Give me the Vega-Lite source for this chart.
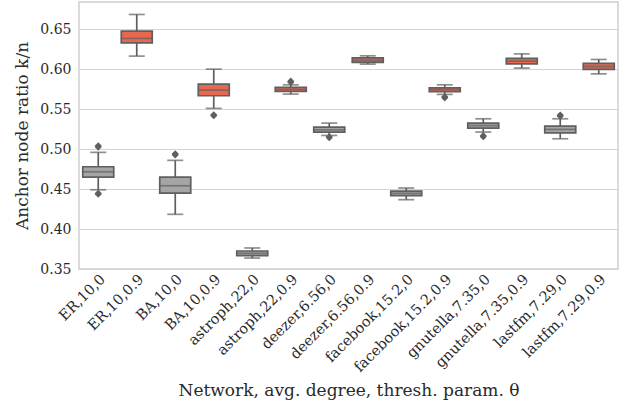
{
  "$schema": "https://vega.github.io/schema/vega-lite/v6.json",
  "width": 539,
  "height": 267,
  "autosize": {"type": "none"},
  "padding": {"left": 79, "top": 2, "right": 4, "bottom": 138},
  "background": "white",
  "config": {
    "font": "DejaVu Serif",
    "view": {"stroke": "#cfcfcf", "strokeWidth": 1.5},
    "axis": {"labelFont": "DejaVu Serif", "titleFont": "DejaVu Serif", "labelColor": "#2a2a2a", "titleColor": "#2a2a2a", "titleFontWeight": "normal"}
  },
  "datasets": {
    "boxes": [
      {"cat": "ER,10,0", "theta": "0", "lo": 0.4491, "q1": 0.465, "med": 0.4716, "q3": 0.4779, "hi": 0.4959},
      {"cat": "ER,10,0.9", "theta": "0.9", "lo": 0.6163, "q1": 0.6329, "med": 0.6384, "q3": 0.6475, "hi": 0.6684},
      {"cat": "BA,10,0", "theta": "0", "lo": 0.4184, "q1": 0.445, "med": 0.4541, "q3": 0.465, "hi": 0.4859},
      {"cat": "BA,10,0.9", "theta": "0.9", "lo": 0.5509, "q1": 0.5667, "med": 0.5738, "q3": 0.5813, "hi": 0.6},
      {"cat": "astroph,22,0", "theta": "0", "lo": 0.3637, "q1": 0.3667, "med": 0.3696, "q3": 0.3725, "hi": 0.3763},
      {"cat": "astroph,22,0.9", "theta": "0.9", "lo": 0.5688, "q1": 0.5721, "med": 0.5746, "q3": 0.5771, "hi": 0.5804},
      {"cat": "deezer,6.56,0", "theta": "0", "lo": 0.5171, "q1": 0.5213, "med": 0.5241, "q3": 0.5275, "hi": 0.5325},
      {"cat": "deezer,6.56,0.9", "theta": "0.9", "lo": 0.6063, "q1": 0.6084, "med": 0.611, "q3": 0.6141, "hi": 0.6167},
      {"cat": "facebook,15.2,0", "theta": "0", "lo": 0.4367, "q1": 0.4417, "med": 0.4446, "q3": 0.4475, "hi": 0.4513},
      {"cat": "facebook,15.2,0.9", "theta": "0.9", "lo": 0.5684, "q1": 0.5717, "med": 0.5742, "q3": 0.5767, "hi": 0.5804},
      {"cat": "gnutella,7.35,0", "theta": "0", "lo": 0.5213, "q1": 0.5263, "med": 0.5294, "q3": 0.5325, "hi": 0.5379},
      {"cat": "gnutella,7.35,0.9", "theta": "0.9", "lo": 0.6013, "q1": 0.6067, "med": 0.61, "q3": 0.6134, "hi": 0.6191},
      {"cat": "lastfm,7.29,0", "theta": "0", "lo": 0.5129, "q1": 0.5204, "med": 0.5246, "q3": 0.5288, "hi": 0.5379},
      {"cat": "lastfm,7.29,0.9", "theta": "0.9", "lo": 0.5941, "q1": 0.5996, "med": 0.6033, "q3": 0.6071, "hi": 0.6121}
    ],
    "outliers": [
      {"cat": "ER,10,0", "v": 0.5041},
      {"cat": "ER,10,0", "v": 0.5025},
      {"cat": "ER,10,0", "v": 0.4434},
      {"cat": "ER,10,0", "v": 0.4448},
      {"cat": "BA,10,0", "v": 0.4941},
      {"cat": "BA,10,0", "v": 0.4925},
      {"cat": "BA,10,0.9", "v": 0.5416},
      {"cat": "BA,10,0.9", "v": 0.543},
      {"cat": "astroph,22,0.9", "v": 0.585},
      {"cat": "astroph,22,0.9", "v": 0.5835},
      {"cat": "deezer,6.56,0", "v": 0.5141},
      {"cat": "deezer,6.56,0", "v": 0.5155},
      {"cat": "facebook,15.2,0.9", "v": 0.5641},
      {"cat": "facebook,15.2,0.9", "v": 0.5655},
      {"cat": "gnutella,7.35,0", "v": 0.5154},
      {"cat": "gnutella,7.35,0", "v": 0.5168},
      {"cat": "lastfm,7.29,0", "v": 0.5425},
      {"cat": "lastfm,7.29,0", "v": 0.541}
    ]
  },
  "layer": [
    {
      "data": {"name": "boxes"},
      "mark": {"type": "rule", "color": "#5f5f5f", "strokeWidth": 1.7},
      "encoding": {
        "x": {"field": "cat", "type": "nominal", "sort": null,
          "scale": {"paddingInner": 0, "paddingOuter": 0},
          "axis": {"title": "Network, avg. degree, thresh. param. θ", "titleFontSize": 17, "titlePadding": 8, "labelAngle": -45, "labelFontSize": 14.5, "labelPadding": 3, "labelDx": -2, "ticks": false, "domain": false, "grid": false}},
        "y": {"field": "lo", "type": "quantitative",
          "scale": {"domain": [0.35, 0.684], "nice": false, "zero": false},
          "axis": {"title": "Anchor node ratio k/n", "titleFontSize": 17, "titlePadding": 8, "values": [0.35, 0.4, 0.45, 0.5, 0.55, 0.6, 0.65], "format": ".2f", "labelFontSize": 14, "labelPadding": 8, "ticks": false, "domain": false, "grid": true, "gridColor": "#d4d4d4", "gridWidth": 1.2}},
        "y2": {"field": "hi"}
      }
    },
    {
      "data": {"name": "boxes"},
      "mark": {"type": "tick", "color": "#5f5f5f", "size": 16, "thickness": 1.7},
      "encoding": {
        "x": {"field": "cat", "type": "nominal", "sort": null},
        "y": {"field": "lo", "type": "quantitative"}
      }
    },
    {
      "data": {"name": "boxes"},
      "mark": {"type": "tick", "color": "#5f5f5f", "size": 16, "thickness": 1.7},
      "encoding": {
        "x": {"field": "cat", "type": "nominal", "sort": null},
        "y": {"field": "hi", "type": "quantitative"}
      }
    },
    {
      "data": {"name": "boxes"},
      "mark": {"type": "bar", "size": 31, "stroke": "#5f5f5f", "strokeWidth": 1.7},
      "encoding": {
        "x": {"field": "cat", "type": "nominal", "sort": null},
        "y": {"field": "q1", "type": "quantitative"},
        "y2": {"field": "q3"},
        "fill": {"field": "theta", "type": "nominal", "scale": {"domain": ["0", "0.9"], "range": ["#a5a5a5", "#e8684f"]}, "legend": null}
      }
    },
    {
      "data": {"name": "boxes"},
      "mark": {"type": "tick", "color": "#5f5f5f", "size": 31, "thickness": 1.7},
      "encoding": {
        "x": {"field": "cat", "type": "nominal", "sort": null},
        "y": {"field": "med", "type": "quantitative"}
      }
    },
    {
      "data": {"name": "outliers"},
      "mark": {"type": "point", "shape": "diamond", "filled": true, "color": "#5f5f5f", "size": 50, "opacity": 1},
      "encoding": {
        "x": {"field": "cat", "type": "nominal", "sort": null},
        "y": {"field": "v", "type": "quantitative"}
      }
    }
  ]
}
